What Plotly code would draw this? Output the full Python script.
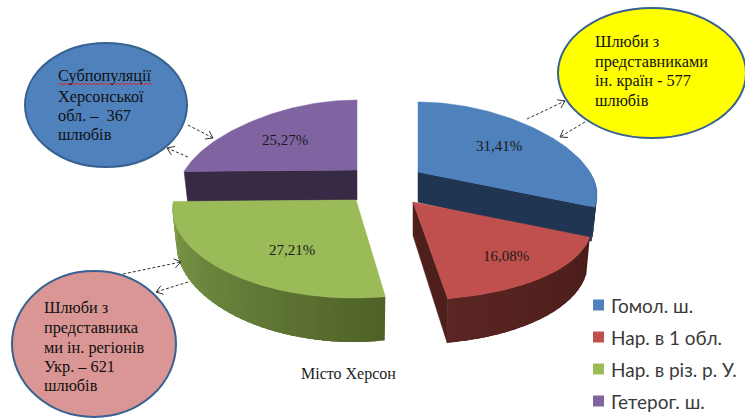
import numpy as np
import plotly.graph_objects as go

# --- data ---
categories = ["Гомол. ш.", "Нар. в 1 обл.", "Нар. в різ. р. У.", "Гетерог. ш."]
values = [31.41, 16.08, 27.21, 25.27]
pct_labels = ["31,41%", "16,08%", "27,21%", "25,27%"]
top_colors = ["#4f81bd", "#c0504d", "#9bbb59", "#8064a2"]
wall_colors = ["#1f3552", "#4f1f1c", "#6f8a3f", "#362a45"]
title_text = "Місто Херсон"

# --- layout constants (pixel space of the picture) ---
W, H = 745, 419
apex = [(418, 172), (413, 202), (356, 200), (357, 170)]
rx_scale = [1.0, 1.0, 1.06, 1.0]
persp = [0.3, 0.3, 0.1, 0.3]
skew = [0, 0, -2, 0]
label_pos = [(499, 146), (506, 256), (292, 250), (285, 140)]
legend_swatch_x, legend_text_x = 598.5, 609
legend_rows = [305, 337, 369, 401]
RX, RY_A, RY_B = 172, 84, 14

fracs = np.array(values) / sum(values)
edges = np.concatenate([[0], np.cumsum(fracs)]) * 2 * np.pi


def proj(a, i):
    ax, ay = apex[i]
    v = -np.cos(a)
    x = ax + rx_scale[i] * RX * np.sin(a) * (1 + persp[i] * v) + skew[i] * np.maximum(v, 0)
    return x, ay + RY_A * v + RY_B * v * v


def depth(y):
    return 30 + 0.11 * (np.asarray(y) - 170)


def lower(x, y, ax):
    return ax + 0.98 * (np.asarray(x) - ax), np.asarray(y) + depth(y)


fig = go.Figure()


def poly(xs, ys, color, lw=0.5):
    fig.add_trace(go.Scatter(x=list(xs), y=list(ys), mode="lines", fill="toself",
                             fillcolor=color, line=dict(color=color, width=lw),
                             hoverinfo="skip", showlegend=False))


def top_face(i):
    ax, ay = apex[i]
    t = np.linspace(edges[i], edges[i + 1], 80)
    x, y = proj(t, i)
    poly(np.r_[ax, x, ax], np.r_[ay, y, ay], top_colors[i])


def radial_wall(i, a):
    ax, ay = apex[i]
    x, y = proj(a, i)
    bx, by = lower(x, y, ax)
    b0x, b0y = lower(ax, ay, ax)
    poly([ax, x, bx, b0x, ax], [ay, y, by, b0y, ay], wall_colors[i])


def mix(c0, c1, f):
    a = [int(c0[k:k + 2], 16) for k in (1, 3, 5)]
    b = [int(c1[k:k + 2], 16) for k in (1, 3, 5)]
    return "#%02x%02x%02x" % tuple(int(round(p + (q - p) * f)) for p, q in zip(a, b))


def arc_wall(i, a0, a1, c_start, c_end, n=40):
    ax = apex[i][0]
    t = np.linspace(a0, a1, n + 1)
    for k in range(n):
        # each strip overlaps the next one so no seams show
        s = np.linspace(t[k], min(t[k] + 2.5 * (t[1] - t[0]), a1), 5)
        x, y = proj(s, i)
        bx, by = lower(x, y, ax)
        poly(np.r_[x, bx[::-1], x[0]], np.r_[y, by[::-1], y[0]],
             mix(c_start, c_end, k / (n - 1)), lw=0)


# back slices
radial_wall(3, edges[3])
top_face(3)
radial_wall(0, edges[1])
arc_wall(0, np.pi / 2, edges[1], wall_colors[0], wall_colors[0], 6)
top_face(0)
# front slices
arc_wall(2, edges[2], edges[3], "#4f6228", "#7f9c4a")
top_face(2)
radial_wall(1, edges[2])
arc_wall(1, edges[1], edges[2], "#4a1d1a", "#5a2522", 20)
top_face(1)

# legend swatches
fig.add_trace(go.Scatter(x=[legend_swatch_x] * len(categories), y=legend_rows, mode="markers",
                         marker=dict(symbol="square", size=11, color=top_colors),
                         hoverinfo="skip", showlegend=False))

# bubbles
bubbles = [
    (106, 105, 81, 62, "#4f81bd", ["Субпопуляції", "Херсонської", "обл. –  367", "шлюбів"], 56, [75, 96, 115, 134]),
    (94, 344, 82, 73, "#d99694", ["Шлюби з", "представника", "ми ін. регіонів", "Укр. – 621", "шлюбів"], 42, [307, 327, 347, 366, 385]),
    (652, 73, 94, 65, "#ffff00", ["Шлюби з", "представниками", "ін. країн - 577", "шлюбів"], 593, [41, 61, 80.5, 100]),
]
shapes = []
ann = []
SERIF = "Liberation Serif"
for cx, cy, rx, ry, col, lines, tx, tys in bubbles:
    shapes.append(dict(type="circle", xref="x", yref="y", x0=cx - rx, x1=cx + rx,
                       y0=cy - ry, y1=cy + ry, fillcolor=col,
                       line=dict(color="#386190", width=2), layer="above"))
    for s, ty in zip(lines, tys):
        ann.append(dict(x=tx, y=ty, text=s, showarrow=False, xanchor="left",
                        yanchor="middle", font=dict(family=SERIF, size=16.3, color="#111")))

# spell-check squiggle (drawn with the text layer above the bubble)
sq_x = np.arange(58, 153, 2)
sq_y = 83 + (np.arange(sq_x.size) % 2) * 2
sq_path = "M" + " L".join(f"{a},{b}" for a, b in zip(sq_x, sq_y))
shapes.append(dict(type="path", xref="x", yref="y", path=sq_path,
                   line=dict(color="#d8282c", width=1), layer="above"))

# connectors
arrows = [
    (188, 125, 213, 138), (188, 157, 167, 148),
    (123, 274, 181, 262), (188, 282, 156, 292),
    (527, 119, 565, 101), (585, 122, 560, 137),
]
for x0, y0, x1, y1 in arrows:
    fig.add_trace(go.Scatter(x=[x0, x1], y=[y0, y1], mode="lines",
                             line=dict(color="#333", width=1, dash="3px,2px"),
                             hoverinfo="skip", showlegend=False))
    ang = np.arctan2(y0 - y1, x0 - x1)
    hx, hy = [], []
    for d in (-0.6, 0.6):
        hx += [x1 + 8 * np.cos(ang + d), x1, None]
        hy += [y1 + 8 * np.sin(ang + d), y1, None]
    fig.add_trace(go.Scatter(x=hx, y=hy, mode="lines", line=dict(color="#333", width=1),
                             hoverinfo="skip", showlegend=False))

for (x, y), s in zip(label_pos, pct_labels):
    ann.append(dict(x=x, y=y, text=s, showarrow=False,
                    font=dict(family=SERIF, size=15, color="#1a1a1a")))

for name, y in zip(categories, legend_rows):
    ann.append(dict(x=legend_text_x, y=y, text=name, showarrow=False, xanchor="left",
                    font=dict(family="Lato", size=19, color="#3a3a3a")))

# chart caption
ann.append(dict(x=348, y=374, text=title_text, showarrow=False,
                font=dict(family=SERIF, size=16, color="#222")))

fig.update_layout(
    width=W, height=H, margin=dict(l=0, r=0, t=0, b=0, autoexpand=False),
    paper_bgcolor="white", plot_bgcolor="white", showlegend=False,
    xaxis=dict(range=[0, W], visible=False, fixedrange=True),
    yaxis=dict(range=[H, 0], visible=False, fixedrange=True),
    shapes=shapes, annotations=ann,
)
fig.write_html("out.html", config=dict(displayModeBar=False),
               post_script="document.body.style.margin='0';")
